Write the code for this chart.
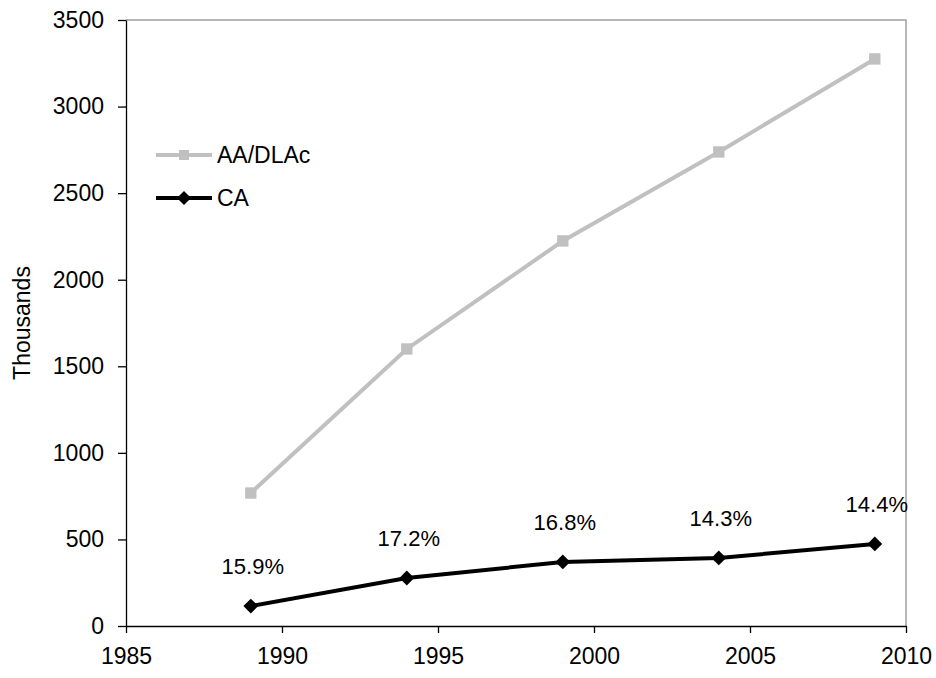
<!DOCTYPE html>
<html>
<head>
<meta charset="utf-8">
<script src="https://cdn.jsdelivr.net/npm/d3@7"></script>
<style>
  body { margin: 0; background: #fff; }
  text { font-family: "Liberation Sans", Arial, sans-serif; }
</style>
</head>
<body>
<div id="chart"></div>
<script>
// data
const years = [1989, 1994, 1999, 2004, 2009];
const aaDlac = [768, 1600, 2224, 2738, 3275];
const ca = [115, 277, 370, 393, 474];
const caShare = ["15.9%", "17.2%", "16.8%", "14.3%", "14.4%"];
const xTicks = [1985, 1990, 1995, 2000, 2005, 2010];
const yTicks = [0, 500, 1000, 1500, 2000, 2500, 3000, 3500];

const width = 936;
const height = 678;
const margin = { top: 20, right: 30, bottom: 52, left: 126 };

const svg = d3
  .select("#chart")
  .append("svg")
  .attr("width", width)
  .attr("height", height);

const x = d3
  .scaleLinear()
  .domain([1985, 2010])
  .range([margin.left, width - margin.right]);

const y = d3
  .scaleLinear()
  .domain([0, 3500])
  .range([height - margin.bottom, margin.top]);

// plot border (top and right, grey)
svg
  .append("path")
  .attr(
    "d",
    "M" + x(1985) + "," + y(3500) + "H" + x(2010) + "V" + y(0)
  )
  .attr("fill", "none")
  .attr("stroke", "#a0a0a0")
  .attr("stroke-width", 1.5);

// axes
const xAxis = d3
  .axisBottom(x)
  .tickValues(xTicks)
  .tickFormat(d3.format("d"))
  .tickSizeInner(7)
  .tickSizeOuter(0)
  .tickPadding(15);

const yAxis = d3
  .axisLeft(y)
  .tickValues(yTicks)
  .tickFormat(d3.format("d"))
  .tickSizeInner(8)
  .tickSizeOuter(0)
  .tickPadding(14);

svg
  .append("g")
  .attr("transform", "translate(0," + y(0) + ")")
  .call(xAxis)
  .call((g) => g.selectAll("line, path").attr("stroke", "#000").attr("stroke-width", 1.3))
  .call((g) => g.selectAll("text").attr("font-size", 23).attr("fill", "#000").attr("font-family", "Liberation Sans, Arial, sans-serif"));

svg
  .append("g")
  .attr("transform", "translate(" + x(1985) + ",0)")
  .call(yAxis)
  .call((g) => g.selectAll("line, path").attr("stroke", "#000").attr("stroke-width", 1.3))
  .call((g) => g.selectAll("text").attr("font-size", 23).attr("fill", "#000").attr("font-family", "Liberation Sans, Arial, sans-serif"));

// y title
svg
  .append("text")
  .attr("transform", "translate(30," + (margin.top + (height - margin.bottom - margin.top) / 2) + ") rotate(-90)")
  .attr("text-anchor", "middle")
  .attr("font-size", 23)
  .text("Thousands");

const line = d3
  .line()
  .x((d) => x(d[0]))
  .y((d) => y(d[1]));

const aaData = years.map((yr, i) => [yr, aaDlac[i]]);
const caData = years.map((yr, i) => [yr, ca[i]]);

// AA/DLAc series
svg
  .append("path")
  .datum(aaData)
  .attr("d", line)
  .attr("fill", "none")
  .attr("stroke", "#c0c0c0")
  .attr("stroke-width", 4);

const square = d3.symbol().type(d3.symbolSquare).size(130);

svg
  .selectAll(".aa-pt")
  .data(aaData)
  .enter()
  .append("path")
  .attr("class", "aa-pt")
  .attr("d", square)
  .attr("transform", (d) => "translate(" + x(d[0]) + "," + y(d[1]) + ")")
  .attr("fill", "#c0c0c0");

// CA series
svg
  .append("path")
  .datum(caData)
  .attr("d", line)
  .attr("fill", "none")
  .attr("stroke", "#000")
  .attr("stroke-width", 4);

svg
  .selectAll(".ca-pt")
  .data(caData)
  .enter()
  .append("path")
  .attr("class", "ca-pt")
  .attr("d", square.size(110))
  .attr("transform", (d) => "translate(" + x(d[0]) + "," + y(d[1]) + ") rotate(45)")
  .attr("fill", "#000");

// share labels
svg
  .selectAll(".share")
  .data(caData)
  .enter()
  .append("text")
  .attr("class", "share")
  .attr("x", (d) => x(d[0]) + 2)
  .attr("y", (d) => y(d[1]) - 32)
  .attr("text-anchor", "middle")
  .attr("font-size", 22)
  .text((d, i) => caShare[i]);

// legend
const legend = [
  { name: "AA/DLAc", color: "#c0c0c0", rot: 0, y: 155 },
  { name: "CA", color: "#000", rot: 45, y: 198 },
];

const lg = svg
  .selectAll(".legend")
  .data(legend)
  .enter()
  .append("g")
  .attr("class", "legend")
  .attr("transform", (d) => "translate(156," + d.y + ")");

lg.append("line")
  .attr("x1", 0)
  .attr("x2", 56)
  .attr("stroke", (d) => d.color)
  .attr("stroke-width", 4);

lg.append("path")
  .attr("d", square.size(100))
  .attr("transform", (d) => "translate(28,0) rotate(" + d.rot + ")")
  .attr("fill", (d) => d.color);

lg.append("text")
  .attr("x", 61)
  .attr("dy", "0.35em")
  .attr("font-size", 23)
  .text((d) => d.name);
</script>
</body>
</html>
